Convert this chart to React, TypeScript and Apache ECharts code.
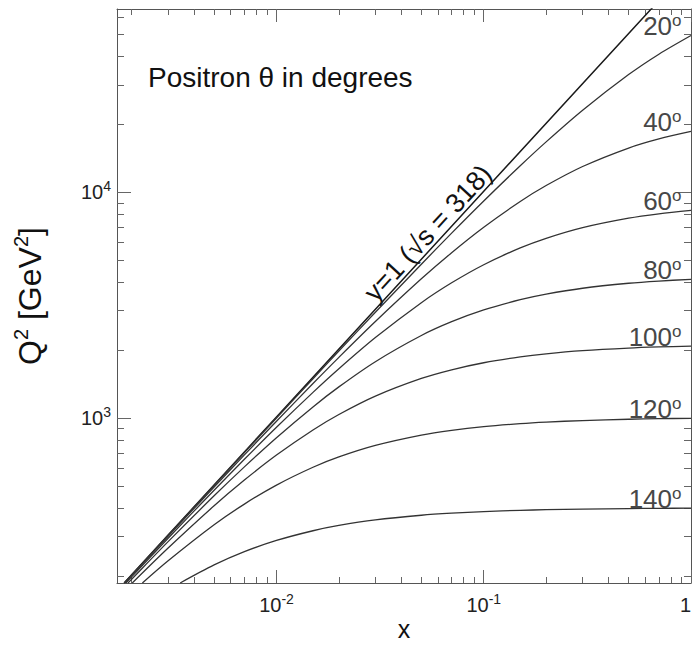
import React, { useEffect, useRef } from "react";
import * as echarts from "echarts";

// ---- axis ranges (x and Q^2 in GeV^2) ----
const xRange = [0.0017, 1];
const q2Range = [186, 65000];

// ---- tick labels ----
const xMajorTicks = [0.01, 0.1, 1];
const xTickBase = ["10", "10", "1"];
const xTickExp = ["-2", "-1", ""];
const yMajorTicks = [1000, 10000];
const yTickBase = ["10", "10"];
const yTickExp = ["3", "4"];
const minorSteps = [2, 3, 4, 5, 6, 7, 8, 9];
const xDecades = [0.001, 0.01, 0.1];
const yDecades = [100, 1000, 10000];

// ---- curves of constant positron angle ----
const xGrid = [0.002, 0.003, 0.005, 0.007, 0.01, 0.015, 0.02, 0.03, 0.05, 0.07, 0.1, 0.15, 0.2, 0.3, 0.5, 0.7, 1];
const angles = [20, 40, 60, 80, 100, 120, 140];
const startX = [0.001841, 0.001853, 0.001876, 0.001921, 0.002014, 0.002254, 0.00343];
const q2_20 = [202.0, 302.7, 503.4, 703.3, 1001.6, 1494.7, 1982.8, 2944, 4810, 6603, 9166, 13131, 16755, 23139, 33288, 40993, 49604];
const q2_40 = [200.6, 299.6, 495.0, 687.1, 969.1, 1423.4, 1859.2, 2679.7, 4142, 5407, 7012, 9118, 10730, 13033, 15734, 17269, 18631];
const q2_60 = [198.0, 293.8, 479.3, 657.1, 910.5, 1300.5, 1654.9, 2274.9, 3248.6, 3978.4, 4784.5, 5679.6, 6265.7, 6986.6, 7695, 8044.5, 8328.2];
const q2_80 = [193.3, 283.6, 452.7, 608.1, 819.1, 1121.7, 1375.9, 1778.9, 2323.5, 2674.4, 3016, 3348.6, 3544.1, 3763.8, 3960.1, 4050.7, 4121.4];
const q2_100 = [null, 265.7, 408.9, 531.6, 686.0, 886.3, 1037.8, 1251.7, 1498.9, 1637.6, 1759.6, 1867.8, 1927.1, 1990.3, 2043.9, 2067.7, 2086];
const q2_120 = [null, 233.3, 336.9, 416.1, 505.1, 605.9, 673.0, 756.9, 840.8, 882.7, 916.9, 945.5, 960.5, 975.9, 988.6, 994.2, 998.4];
const q2_140 = [null, null, 223.6, 256.0, 287.1, 317.0, 334.5, 354.0, 371.3, 379.3, 385.5, 390.4, 393.0, 395.5, 397.6, 398.5, 399.2];

// ---- kinematic limit y = 1 ----
const yOneX = [0.00184, 0.01, 0.1, 0.7];
const yOneQ2 = [186, 1012, 10120, 70840];

const FONT = "'Liberation Sans', Arial, Helvetica, sans-serif";
const lg = (v: number) => Math.log10(v);

export default function App() {
  const ref = useRef<HTMLDivElement>(null);

  useEffect(() => {
    if (!ref.current) return;
    const chart = echarts.init(ref.current, null, { renderer: "svg" });

    const xMin = lg(xRange[0]);
    const xMax = lg(xRange[1]);
    const yMin = lg(q2Range[0]);
    const yMax = lg(q2Range[1]);

    const xMajor = xMajorTicks.map(lg);
    const yMajor = yMajorTicks.map(lg);
    const xMinor = xDecades
      .flatMap((d) => minorSteps.map((m) => lg(m * d)))
      .filter((v) => v > xMin && v < xMax);
    const yMinor = yDecades
      .flatMap((d) => minorSteps.map((m) => lg(m * d)))
      .filter((v) => v > yMin && v < yMax);

    const lineCol = "#555";
    const tickRich = {
      b: { fontSize: 20, fontFamily: FONT, color: "#222", lineHeight: 26 },
      s: { fontSize: 14, fontFamily: FONT, color: "#222", lineHeight: 12, verticalAlign: "top" },
    };
    const xFmt = (v: number) => {
      const i = xMajor.findIndex((t) => Math.abs(t - v) < 1e-6);
      if (i < 0) return "";
      return xTickExp[i] ? `{b|${xTickBase[i]}}{s|${xTickExp[i]}}` : `{b|${xTickBase[i]}}`;
    };
    const yFmt = (v: number) => {
      const i = yMajor.findIndex((t) => Math.abs(t - v) < 1e-6);
      if (i < 0) return "";
      return `{b|${yTickBase[i]}}{s|${yTickExp[i]}}`;
    };

    const mkAxis = (
      min: number,
      max: number,
      position: string,
      ticks: number[],
      tickLen: number,
      showLine: boolean,
      extra: any = {}
    ) => ({
      type: "value",
      min,
      max,
      position,
      splitLine: { show: false },
      axisLine: { show: showLine, onZero: false, lineStyle: { color: lineCol, width: 1 } },
      axisTick: { show: true, inside: true, length: tickLen, customValues: ticks, lineStyle: { color: "#666", width: 1 } },
      axisLabel: { show: false },
      nameMoveOverlap: false,
      ...extra,
    });

    const xAxis = [
      mkAxis(xMin, xMax, "bottom", xMajor, 13, true, {
        name: "x",
        nameLocation: "middle",
        nameGap: 33,
        nameTextStyle: { fontSize: 25, fontFamily: FONT, color: "#111" },
        axisLabel: {
          show: true,
          customValues: xMajor,
          formatter: xFmt,
          margin: 9,
          alignMaxLabel: "right",
          rich: tickRich,
        },
      }),
      mkAxis(xMin, xMax, "bottom", xMinor, 6, false),
      mkAxis(xMin, xMax, "top", xMajor, 13, true),
      mkAxis(xMin, xMax, "top", xMinor, 6, false),
    ];
    const yAxis = [
      mkAxis(yMin, yMax, "left", yMajor, 14, true, {
        name: "{a|Q}{s|2}{a| [GeV}{s|2}{a|]}",
        nameLocation: "middle",
        nameGap: 68,
        nameRotate: 90,
        nameTextStyle: {
          rich: {
            a: { fontSize: 32, fontFamily: FONT, color: "#111", lineHeight: 38 },
            s: { fontSize: 20, fontFamily: FONT, color: "#111", lineHeight: 16, verticalAlign: "top" },
          },
        },
        axisLabel: {
          show: true,
          customValues: yMajor,
          formatter: yFmt,
          margin: 6,
          rich: tickRich,
        },
      }),
      mkAxis(yMin, yMax, "left", yMinor, 7, false),
      mkAxis(yMin, yMax, "right", yMajor, 14, true),
      mkAxis(yMin, yMax, "right", yMinor, 7, false),
    ];

    const curves = [q2_20, q2_40, q2_60, q2_80, q2_100, q2_120, q2_140];
    const angleSeries = curves.map((vals, i) => {
      const pts: number[][] = [[startX[i], q2Range[0]]];
      xGrid.forEach((x, j) => {
        const v = vals[j];
        if (v != null && x > startX[i]) pts.push([x, v]);
      });
      const last = pts[pts.length - 1];
      return {
        type: "line",
        name: `${angles[i]}`,
        xAxisIndex: 0,
        yAxisIndex: 0,
        data: pts.map(([x, q]) => [lg(x), lg(q)]),
        showSymbol: false,
        symbol: "none",
        smooth: 0.3,
        silent: true,
        lineStyle: { color: "#333", width: 1.3 },
        markPoint: {
          symbol: "circle",
          symbolSize: 1,
          silent: true,
          itemStyle: { color: "rgba(0,0,0,0)" },
          data: [{ coord: [lg(last[0]), lg(last[1])] }],
          label: {
            show: true,
            position: [-9, 5],
            align: "right",
            verticalAlign: "bottom",
            formatter: `{n|${angles[i]}}{d|o}`,
            rich: {
              n: { fontSize: 26, fontFamily: FONT, color: "#474747", lineHeight: 28 },
              d: { fontSize: 17, fontFamily: FONT, color: "#474747", lineHeight: 16, verticalAlign: "top" },
            },
          },
        },
      };
    });

    const yOneSeries = {
      type: "line",
      name: "y=1",
      xAxisIndex: 0,
      yAxisIndex: 0,
      data: yOneX.map((x, i) => [lg(x), lg(yOneQ2[i])]),
      showSymbol: false,
      symbol: "none",
      silent: true,
      lineStyle: { color: "#1a1a1a", width: 1.5 },
    };

    const option: any = {
      animation: false,
      backgroundColor: "#ffffff",
      grid: { left: 117, right: 2, top: 9, bottom: 66, containLabel: false, outerBoundsMode: "none" },
      xAxis,
      yAxis,
      series: [yOneSeries, ...angleSeries],
      graphic: [
        {
          type: "text",
          x: 148,
          y: 77,
          silent: true,
          style: {
            text: "Positron θ in degrees",
            fontSize: 28,
            fontFamily: FONT,
            fill: "#111",
            align: "left",
            verticalAlign: "middle",
          },
        },
        {
          type: "text",
          x: 428,
          y: 233,
          rotation: (47.5 * Math.PI) / 180,
          silent: true,
          style: {
            text: "y=1 (√s = 318)",
            fontSize: 27,
            fontFamily: FONT,
            fill: "#111",
            align: "center",
            verticalAlign: "middle",
          },
        },
      ],
    };

    chart.setOption(option);
    return () => chart.dispose();
  }, []);

  return (
    <div
      ref={ref}
      style={{ position: "absolute", left: 0, top: 0, width: 693, height: 649, background: "#fff" }}
    />
  );
}
